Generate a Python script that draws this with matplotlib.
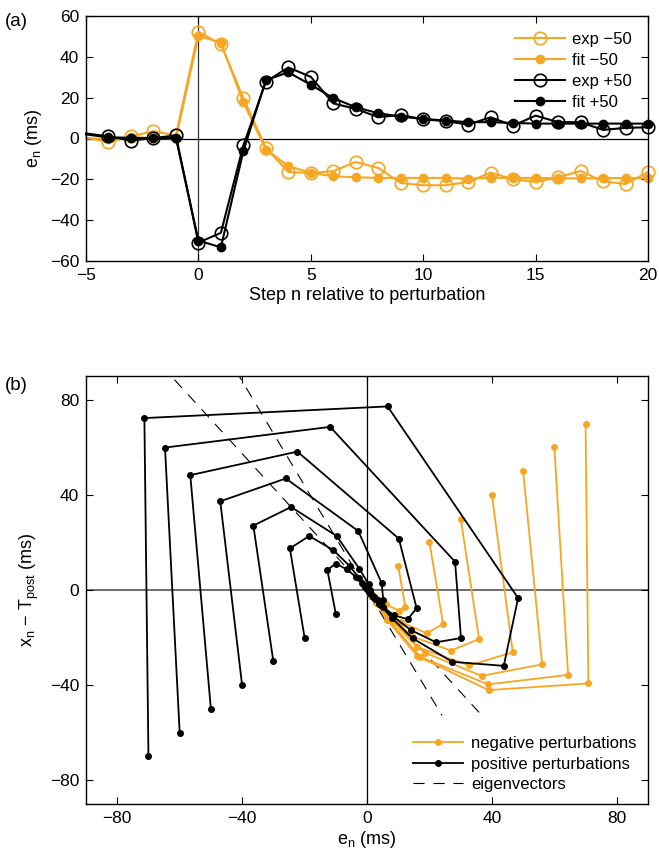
import matplotlib
matplotlib.use("Agg")
import matplotlib.pyplot as plt
import numpy as np

plt.rcParams['font.family'] = ['Liberation Sans', 'DejaVu Sans']
plt.rcParams['mathtext.fontset'] = 'custom'
plt.rcParams['mathtext.rm'] = 'Liberation Sans'
plt.rcParams['mathtext.it'] = 'Liberation Sans:italic'
plt.rcParams['axes.unicode_minus'] = True

ORANGE = '#f6a623'

# ---- panel (a): e_n vs step n ----
steps = list(range(-5, 21))
exp_m50 = [0.5, -1.8, 1.0, 3.6, 1.5, 52.3, 46.2, 19.7, -4.6, -16.4, -16.9, -16.0, -11.5,
           -14.4, -21.8, -22.9, -22.9, -21.3, -16.7, -20.0, -21.3, -19.0, -15.9, -21.0, -22.3, -16.4]
fit_m50 = [0.0, 0.0, 0.5, 0.3, 0.0, 50.2, 47.0, 17.7, -5.4, -13.5, -16.9, -18.5, -19.0,
           -19.3, -19.3, -19.3, -19.3, -19.7, -19.3, -19.3, -19.3, -19.5, -19.5, -19.5, -19.3, -19.5]
exp_p50 = [2.5, 1.0, -1.0, 0.2, 1.5, -51.0, -46.2, -3.4, 27.8, 34.8, 30.2, 17.2, 14.5,
           10.5, 11.5, 9.4, 8.5, 6.8, 10.4, 6.3, 11.2, 8.0, 8.0, 4.2, 5.2, 5.5]
fit_p50 = [2.0, 0.6, 0.3, 0.2, 0.2, -50.0, -53.3, -6.2, 28.6, 32.4, 26.3, 19.8, 15.3,
           12.4, 10.7, 9.6, 8.8, 8.0, 8.0, 7.6, 7.3, 7.3, 7.3, 7.3, 7.3, 7.3]

# ---- panel (b): trajectories (e_n, x_n - T_post) ----
pos_traj = {
    10: [(-10, -10), (-12.7, 8.4), (-10, 11.1), (-6.5, 8.7), (-3.5, 5.5), (-1.5, 2.8), (-0.5, 1.2), (0, 0.4)],
    20: [(-20, -20), (-24.7, 17.5), (-18.5, 22.7), (-10.8, 16.8), (-5.5, 10), (-2.5, 5), (-1, 2), (0, 0.5)],
    30: [(-30, -30), (-36.4, 27.1), (-24.3, 34.9), (-9.7, 22.7), (-2.5, 9), (0.5, 2.5), (1, 0), (0.8, -0.8)],
    40: [(-40, -40), (-47, 37.3), (-26, 46.9), (-2.8, 24.8), (4.7, 2.9), (5.2, -4.2), (3.5, -4), (2, -2.5), (1, -1.2)],
    50: [(-50, -50), (-56.6, 48.3), (-22.3, 58.2), (10.2, 21.6), (15.9, -7.7), (13, -12.3), (8.5, -10.5),
         (5, -7), (2.5, -3.6), (1.2, -1.8)],
    60: [(-60, -60), (-64.7, 59.9), (-11.8, 68.6), (28.2, 11.9), (30.1, -20.2), (22.1, -22), (14, -16.8),
         (8.4, -11.2), (4.5, -6.3), (2.2, -3.1), (1, -1.4)],
    70: [(-70, -70), (-71.3, 72.3), (6.6, 77.2), (48.4, -3.4), (43.8, -31.9), (27.3, -30.2), (14.6, -20.3),
         (7.9, -11.7), (4, -6), (2, -3), (1, -1.4)],
}
neg_traj = {
    10: [(10, 10), (12.3, -7.3), (10.2, -8.7), (6, -6), (3, -3.5), (1.3, -1.8), (0.5, -0.8)],
    20: [(20, 20), (24.4, -14.3), (19.1, -18.2), (11, -13.5), (5.5, -7.5), (2.5, -3.8), (1, -1.6)],
    30: [(30, 30), (35.9, -20.6), (26.9, -25.5), (14.5, -19.5), (7, -10.5), (3.2, -5), (1.4, -2.2)],
    40: [(40, 40), (46.7, -26.2), (32.7, -31.7), (16, -24), (7.5, -11.8), (3.4, -5.4), (1.5, -2.4)],
    50: [(50, 50), (56.1, -31.3), (36.7, -36.1), (18.6, -26.4), (7.5, -12.5), (3.3, -5.6), (1.5, -2.5)],
    60: [(60, 60), (64.4, -35.7), (38.8, -39.7), (17, -28.1), (7, -12.6), (3.1, -5.6), (1.4, -2.4)],
    70: [(70, 70), (70.9, -39.3), (39, -42.1), (16.1, -27.8), (6.5, -12.6), (2.9, -5.5), (1.3, -2.4)],
}
eig_slopes = [-1.434, -2.197]
eig_e_ranges = [(-66, 36.2), (-42, 24.0)]

fig = plt.figure(figsize=(6.59, 8.52), dpi=100)
W, H = 659.0, 852.0

def style_axes(ax):
    ax.tick_params(direction='in', top=True, right=True, length=5, width=0.8, labelsize=12.5, pad=5)
    for s in ax.spines.values():
        s.set_linewidth(1.0)

# (a)
ax1 = fig.add_axes([86 / W, 1 - 261 / H, 562 / W, 245 / H])
ax1.axhline(0, color='k', lw=0.9, zorder=1)
ax1.axvline(0, color='#333333', lw=0.9, zorder=1)
mk = list(range(1, len(steps)))
ax1.plot(steps, exp_m50, '-o', color=ORANGE, mfc='none', mec=ORANGE, ms=9, mew=1.2, lw=1.5,
         markevery=mk, clip_on=False, label='exp \u221250')
ax1.plot(steps, fit_m50, '-o', color=ORANGE, mfc=ORANGE, mec=ORANGE, ms=6, lw=1.5,
         markevery=mk, clip_on=False, label='fit \u221250')
ax1.plot(steps, exp_p50, '-o', color='k', mfc='none', mec='k', ms=9, mew=1.2, lw=1.5,
         markevery=mk, clip_on=False, label='exp +50')
ax1.plot(steps, fit_p50, '-o', color='k', mfc='k', mec='k', ms=6, lw=1.5,
         markevery=mk, clip_on=False, label='fit +50')
ax1.set_xlim(-5, 20)
ax1.set_ylim(-60, 60)
ax1.set_xticks([-5, 0, 5, 10, 15, 20])
ax1.set_yticks([-60, -40, -20, 0, 20, 40, 60])
style_axes(ax1)
ax1.set_xlabel('Step n relative to perturbation', fontsize=13, labelpad=3)
ax1.set_ylabel(r'e$_\mathrm{n}$ (ms)', fontsize=13, labelpad=4)
ax1.legend(loc='upper right', frameon=False, fontsize=12, handlelength=3.0,
           handletextpad=0.45, labelspacing=0.36, borderaxespad=0.55,
           bbox_to_anchor=(1.0, 1.0))

# (b)
ax2 = fig.add_axes([86 / W, 1 - 804 / H, 562 / W, 428 / H])
ax2.axhline(0, color='#555555', lw=1.2, zorder=1)
ax2.axvline(0, color='k', lw=0.9, zorder=1)
for i, (slope, (e0, e1)) in enumerate(zip(eig_slopes, eig_e_ranges)):
    ee = np.array([e0, e1])
    ax2.plot(ee, slope * ee, color='k', lw=0.8, linestyle=(0, (10, 8)),
             label='eigenvectors' if i == 0 else None, zorder=2)
for j, (p, pts) in enumerate(neg_traj.items()):
    e, x = zip(*pts)
    ax2.plot(e, x, '-o', color=ORANGE, ms=4, lw=1.3, zorder=3,
             label='negative perturbations' if j == 0 else None)
for j, (p, pts) in enumerate(pos_traj.items()):
    e, x = zip(*pts)
    ax2.plot(e, x, '-o', color='k', ms=4, lw=1.3, zorder=4,
             label='positive perturbations' if j == 0 else None)
ax2.set_xlim(-90, 90)
ax2.set_ylim(-90, 90)
ax2.set_xticks([-80, -40, 0, 40, 80])
ax2.set_yticks([-80, -40, 0, 40, 80])
style_axes(ax2)
ax2.set_xlabel(r'e$_\mathrm{n}$ (ms)', fontsize=13, labelpad=2)
ax2.set_ylabel('x$_\\mathrm{n}$ \u2212 T$_\\mathrm{post}$ (ms)', fontsize=13, labelpad=6)
h, l = ax2.get_legend_handles_labels()
order = [l.index('negative perturbations'), l.index('positive perturbations'), l.index('eigenvectors')]
ax2.legend([h[k] for k in order], [l[k] for k in order], loc='lower right', frameon=False,
           fontsize=12, handlelength=3.0, handletextpad=0.45, labelspacing=0.35,
           borderaxespad=0.3, bbox_to_anchor=(1.0, 0.0))

fig.text(5 / W, 1 - 22 / H, '(a)', fontsize=13.5, va='center', ha='left')
fig.text(5 / W, 1 - 385 / H, '(b)', fontsize=13.5, va='center', ha='left')

fig.savefig('out.png', dpi=100)
